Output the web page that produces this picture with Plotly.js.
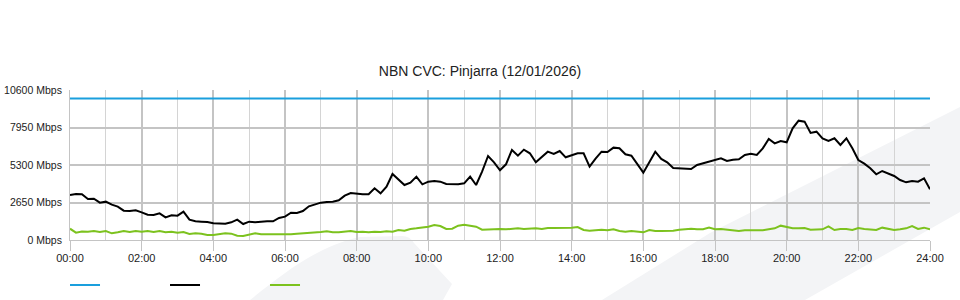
<!DOCTYPE html>
<html>
<head>
<meta charset="utf-8">
<script src="https://cdn.plot.ly/plotly-3.0.1.min.js"></script>
<style>
  html, body { margin: 0; padding: 0; background: #ffffff; }
  #wrap { position: relative; width: 960px; height: 300px; overflow: hidden; }
  #bg { position: absolute; left: 0; top: 0; }
  #chart { position: absolute; left: 0; top: 0; width: 960px; height: 300px; }
</style>
</head>
<body>
<div id="wrap">
  <svg id="bg" width="960" height="300" xmlns="http://www.w3.org/2000/svg">
    <path d="M250,300 C285,272 318,246 360,237 L402,236 Q410,236 414,243 L452,284 L443,300 Z" fill="#f3f4f6"/>
    <path d="M602,300 L710,233 L960,107 L960,212 L805,300 Z" fill="#f3f4f6"/>
  </svg>
  <div id="chart"></div>
</div>
<script>
// ---- data (10-minute samples, 00:00 .. 24:00) ----
const stepMinutes = 10;

const throughputDown = [
  3181, 3250, 3228, 2898, 2921, 2640, 2710, 2497, 2356, 2073, 2050, 2097,
  1955, 1790, 1767, 1885, 1602, 1743, 1720, 2003, 1437, 1319, 1296, 1272,
  1178, 1178, 1154, 1249, 1437, 1131, 1296, 1249, 1296, 1319, 1319, 1555,
  1650, 1932, 1908, 2050, 2380, 2521, 2640, 2686, 2710, 2804, 3134, 3322,
  3251, 3228, 3228, 3652, 3298, 3770, 4665, 4240, 3887, 4052, 4476, 3935,
  4123, 4170, 4123, 3958, 3958, 3935, 4005, 4476, 3887, 4830, 5937, 5490,
  4930, 5348, 6361, 5961, 6385, 6126, 5490, 5890, 6243, 6078, 6290, 5843,
  6008, 6126, 6126, 5183, 5749, 6243, 6220, 6526, 6479, 6055, 5961, 5348,
  4759, 5490, 6243, 5725, 5490, 5089, 5065, 4995, 5018, 5301, 5419, 5537,
  5600, 5772, 5584, 5678, 5701, 6008, 6102, 6008, 6479, 7139, 6832, 6997,
  6903, 7893, 8434, 8364, 7563, 7657, 7186, 6997, 7186, 6715, 7186, 6479,
  5654, 5395, 5065, 4641, 4877, 4712, 4523, 4241, 4076, 4170, 4123, 4359,
  3581
];

const throughputUp = [
  800, 520, 600, 589, 636, 565, 636, 471, 542, 636, 565, 636,
  589, 636, 565, 636, 542, 589, 518, 565, 424, 471, 448, 353,
  353, 400, 471, 448, 306, 283, 400, 471, 400, 400, 353, 353,
  365, 400, 448, 471, 471, 518, 565, 612, 542, 542, 589, 636,
  565, 589, 542, 589, 565, 612, 589, 707, 660, 777, 825, 872,
  942, 1060, 990, 777, 801, 1013, 1084, 1013, 942, 730, 754, 777,
  777, 754, 777, 825, 777, 801, 825, 777, 848, 848, 848, 848,
  872, 919, 707, 660, 707, 730, 683, 754, 636, 589, 636, 589,
  542, 707, 636, 636, 636, 660, 730, 754, 801, 754, 754, 872,
  754, 777, 730, 660, 636, 683, 683, 683, 683, 754, 825, 1013,
  942, 825, 825, 848, 730, 754, 754, 966, 707, 777, 777, 707,
  848, 777, 754, 707, 872, 777, 707, 754, 825, 990, 777, 872,
  754
];

const capacityHours = [0, 24];
const capacityValues = [10000, 10000];

const xTickVals = [0, 2, 4, 6, 8, 10, 12, 14, 16, 18, 20, 22, 24];
const xTickText = ["00:00", "02:00", "04:00", "06:00", "08:00", "10:00", "12:00",
                   "14:00", "16:00", "18:00", "20:00", "22:00", "24:00"];
const yTickVals = [0, 2650, 5300, 7950, 10600];
const yTickText = ["0 Mbps", "2650 Mbps", "5300 Mbps", "7950 Mbps", "10600 Mbps"];

const titleText = "NBN CVC: Pinjarra (12/01/2026)";

// ---- build ----
const sampleHours = throughputDown.map((_, i) => i * stepMinutes / 60);

const FONT = "Liberation Sans, Arial, Helvetica, sans-serif";

const traces = [
  { x: capacityHours, y: capacityValues, type: "scatter", mode: "lines", name: "",
    line: { color: "#1a9fdd", width: 2 }, hoverinfo: "skip" },
  { x: sampleHours, y: throughputDown, type: "scatter", mode: "lines", name: "",
    line: { color: "#000000", width: 2 }, hoverinfo: "skip" },
  { x: sampleHours, y: throughputUp, type: "scatter", mode: "lines", name: "",
    line: { color: "#7cc21e", width: 2 }, hoverinfo: "skip" }
];

const layout = {
  width: 960, height: 300,
  margin: { l: 70, r: 30, t: 90, b: 60, pad: 0, autoexpand: false },
  paper_bgcolor: "rgba(0,0,0,0)",
  plot_bgcolor: "rgba(0,0,0,0)",
  font: { family: FONT, size: 11, color: "#222222" },
  title: { text: titleText, font: { family: FONT, size: 14, color: "#222222" },
           x: 0.5, xanchor: "center", xref: "container", y: 0.763, yanchor: "middle", yref: "container" },
  showlegend: true,
  legend: { orientation: "h", x: -0.0058, xanchor: "left", y: -0.3, yanchor: "middle",
            itemwidth: 30, entrywidth: 55, entrywidthmode: "pixels",
            font: { family: FONT, size: 11 }, bgcolor: "rgba(0,0,0,0)", tracegroupgap: 0 },
  xaxis: {
    range: [0, 24], fixedrange: true,
    tickmode: "array", tickvals: xTickVals, ticktext: xTickText,
    ticks: "outside", ticklen: 10, tickwidth: 1, tickcolor: "#c4c4c4",
    ticklabelstandoff: -2,
    showgrid: true, gridcolor: "#c4c4c4", gridwidth: 2,
    minor: { tickmode: "linear", tick0: 0, dtick: 1, showgrid: true, gridcolor: "#d4d4d4", gridwidth: 1 },
    showline: true, linecolor: "#c4c4c4", linewidth: 1, mirror: false,
    zeroline: false, tickfont: { family: FONT, size: 11, color: "#222222" }
  },
  yaxis: {
    range: [0, 10600], fixedrange: true,
    tickmode: "array", tickvals: yTickVals, ticktext: yTickText,
    ticks: "", ticklabelstandoff: 5,
    showgrid: true, gridcolor: "#c4c4c4", gridwidth: 2,
    showline: true, linecolor: "#c4c4c4", linewidth: 1,
    zeroline: false, tickfont: { family: FONT, size: 10.5, color: "#222222" }
  }
};

Plotly.newPlot("chart", traces, layout, { staticPlot: true, displayModeBar: false });
</script>
</body>
</html>
